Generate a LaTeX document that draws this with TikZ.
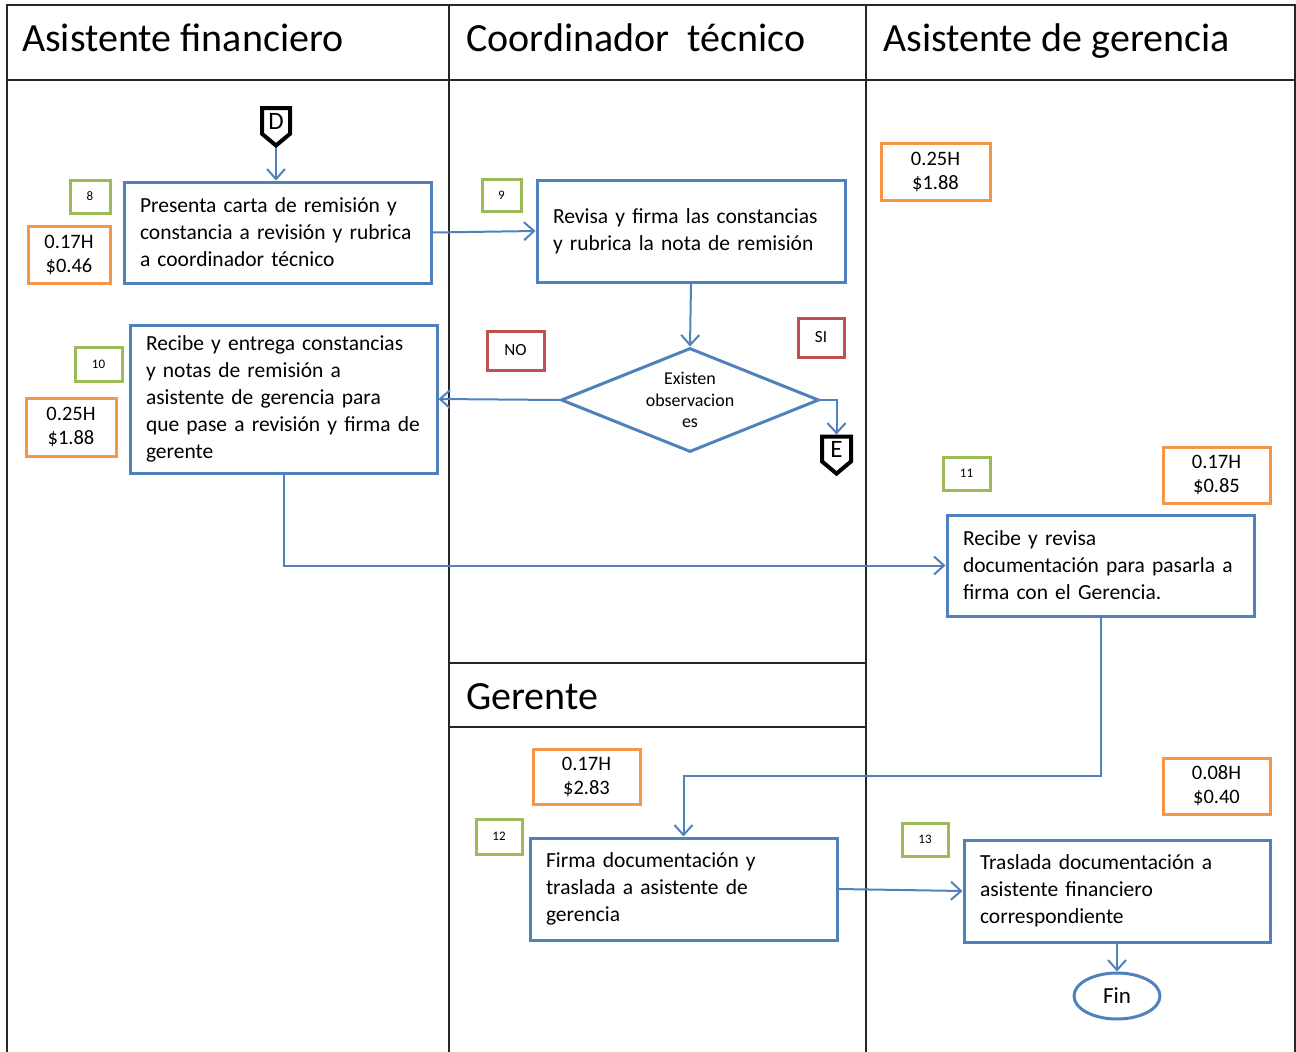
\documentclass[tikz,border=0pt]{standalone}
\usepackage{fontspec}
\setmainfont{Carlito}
\usetikzlibrary{arrows.meta, shapes.geometric, shapes.symbols}
\definecolor{flowblue}{HTML}{4F81BD}
\definecolor{costorange}{HTML}{F79646}
\definecolor{stepgreen}{HTML}{9BBB59}
\definecolor{answerred}{HTML}{C0504D}
\tikzstyle{blue_box} = [
    rectangle,
    draw=flowblue,
    line width=3pt,
    fill=white,
    align=left,
    inner xsep=16pt,
    inner ysep=0pt,
    font=\fontsize{21.5}{27}\selectfont
]
\tikzstyle{cost_box} = [
    rectangle,
    draw=costorange,
    line width=3pt,
    align=center,
    inner sep=0pt,
    font=\fontsize{20.5}{24}\selectfont
]
\tikzstyle{step_num} = [
    rectangle,
    draw=stepgreen,
    line width=3pt,
    inner sep=0pt,
    font=\fontsize{13}{15}\selectfont
]
\tikzstyle{answer_box} = [
    rectangle,
    draw=answerred,
    line width=3pt,
    inner sep=0pt,
    font=\fontsize{17}{20}\selectfont
]
\tikzstyle{lane_title} = [
    anchor=base west,
    inner sep=0pt,
    font=\fontsize{40}{46}\selectfont
]
\tikzstyle{page_link} = [
    signal,
    signal to=south,
    signal pointer angle=100,
    draw=black,
    line width=4pt,
    fill=white,
    inner sep=0pt,
    font=\fontsize{25}{28}\selectfont
]
\tikzstyle{flow} = [
    draw=flowblue,
    line width=2pt,
    -{Straight Barb[length=10pt, width=18pt]}
]

\begin{document}
\begin{tikzpicture}[x=1pt, y=-1pt]
\useasboundingbox (0,0) rectangle (1296,1052);

% swimlanes
\begin{scope}[draw=black!85, line width=2pt]
    \draw (7,1052) -- (7,5) -- (1295,5) -- (1295,1052);
    \draw (7,80) -- (1295,80);
    \draw (449,5) -- (449,1052);
    \draw (866,5) -- (866,1052);
    \draw (449,663) -- (866,663);
    \draw (449,727) -- (866,727);
\end{scope}
\node [lane_title] (lane_af) at (22,51) {Asistente financiero};
\node [lane_title] (lane_ct) at (466,51) {Coordinador~~técnico};
\node [lane_title] (lane_ag) at (883,51) {Asistente de gerencia};
\node [lane_title] (lane_ge) at (466,709) {Gerente};

% activities
\node [blue_box, text width=275pt, minimum height=101pt] (b8) at (277.5,232.5)
    {Presenta carta de remisión y\\constancia a revisión y rubrica\\a coordinador técnico};
\node [blue_box, text width=276pt, minimum height=102pt] (b9) at (691,231)
    {Revisa y firma las constancias\\y rubrica la nota de remisión};
\node [blue_box, text width=275pt, minimum height=148pt] (b10) at (283.5,399)
    {Recibe y entrega constancias\\y notas de remisión a\\asistente de gerencia para\\que pase a revisión y firma de\\gerente};
\node [blue_box, text width=275pt, minimum height=101pt] (b11) at (1100.5,565.5)
    {Recibe y revisa\\documentación para pasarla a\\firma con el Gerencia.};
\node [blue_box, text width=275pt, minimum height=102pt] (b12) at (683.5,889)
    {Firma documentación y\\traslada a asistente de\\gerencia};
\node [blue_box, text width=274pt, minimum height=102pt] (b13) at (1117,891)
    {Traslada documentación a\\asistente financiero\\correspondiente};
\node [diamond, aspect=2.5, draw=flowblue, line width=3pt, fill=white, inner sep=0pt,
       minimum width=258pt, minimum height=104pt, align=center,
       font=\fontsize{18}{21.5}\selectfont] (dq) at (690,400)
    {Existen\\observacion\\es};
\node [ellipse, draw=flowblue, line width=3pt, inner sep=0pt,
       minimum width=86pt, minimum height=46pt,
       font=\fontsize{23}{26}\selectfont] (fin) at (1117,996) {Fin};

% off-page links
\node [page_link, minimum width=28pt, minimum height=32pt] (D) at (276,121) {D};
\node [page_link, minimum width=29pt, minimum height=30pt] (E) at (836.5,449) {E};

% step numbers
\node [step_num, minimum width=40pt, minimum height=33pt] (n8) at (90,196.5) {8};
\node [step_num, minimum width=39pt, minimum height=32pt] (n9) at (501.5,195) {9};
\node [step_num, minimum width=47pt, minimum height=34pt] (n10) at (98.5,364) {10};
\node [step_num, minimum width=47pt, minimum height=33pt] (n11) at (966.5,473.5) {11};
\node [step_num, minimum width=46pt, minimum height=35pt] (n12) at (499,836.5) {12};
\node [step_num, minimum width=46pt, minimum height=33pt] (n13) at (925,839.5) {13};

% time and cost
\node [cost_box, minimum width=82pt, minimum height=57pt] (c8) at (69,254.5) {0.17H\\\$0.46};
\node [cost_box, minimum width=90pt, minimum height=58pt] (c10) at (71,427) {0.25H\\\$1.88};
\node [cost_box, minimum width=109pt, minimum height=57pt] (c9) at (935.5,171.5) {0.25H\\\$1.88};
\node [cost_box, minimum width=107pt, minimum height=56pt] (c11) at (1216.5,475) {0.17H\\\$0.85};
\node [cost_box, minimum width=107pt, minimum height=55pt] (c12) at (586.5,776.5) {0.17H\\\$2.83};
\node [cost_box, minimum width=107pt, minimum height=56pt] (c13) at (1216.5,786) {0.08H\\\$0.40};

% answers
\node [answer_box, minimum width=57pt, minimum height=39pt] (no) at (515.5,350.5) {NO};
\node [answer_box, minimum width=46pt, minimum height=39pt] (si) at (821,337.5) {SI};

% connectors
\draw [flow] (D.south) -- (D.south |- b8.north);
\draw [flow] (b8.east) -- (b9.west);
\draw [flow] (b9.south) -- (dq.north);
\draw [flow] (dq.west) -- (b10.east);
\draw [flow] (dq.east) -| (E.north);
\draw [flow] (b10.south) |- (b11.west);
\draw [flow] (b11.south) -- ++(0,158) -| (b12.north);
\draw [flow] (b12.east) -- (b13.west);
\draw [flow] (b13.south) -- (fin.north);
\end{tikzpicture}
\end{document}
